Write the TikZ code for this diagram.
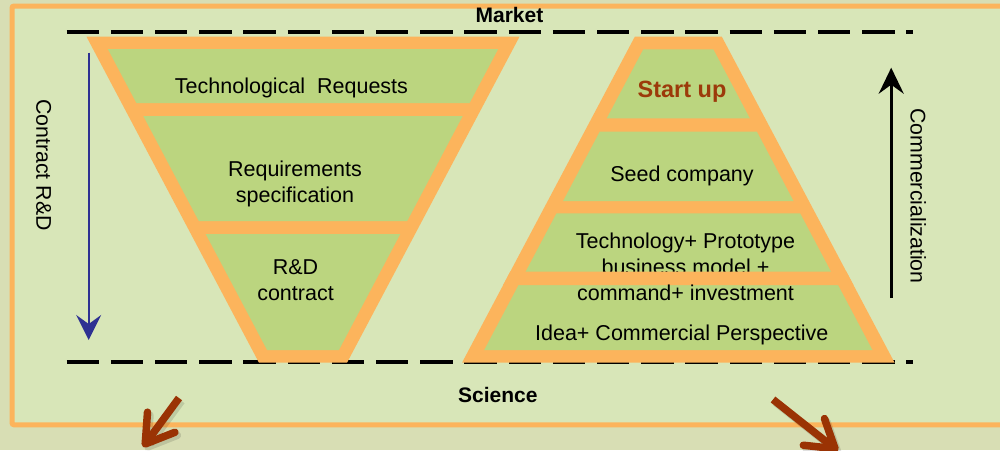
\documentclass[tikz,border=0pt]{standalone}
\usepackage{fontspec}
\setmainfont{Liberation Sans}
\usetikzlibrary{arrows.meta}
\definecolor{bgout}{HTML}{D8DEB4}
\definecolor{bgin}{HTML}{D8E6B8}
\definecolor{orangeC}{HTML}{FCB45C}
\definecolor{greenC}{HTML}{BBD57F}
\definecolor{brownT}{HTML}{9C3A0A}
\definecolor{brownA}{HTML}{9A3304}
\definecolor{blueA}{HTML}{2E3192}
\begin{document}
\begin{tikzpicture}[x=1pt,y=-1pt,
  lbl/.style={inner sep=0pt, anchor=base, font=\fontsize{21.5}{26}\selectfont},
  bold/.style={inner sep=0pt, anchor=base, font=\fontsize{21}{26}\selectfont\bfseries},
  side/.style={inner sep=0pt, anchor=center, rotate=-90, font=\fontsize{21.3}{26}\selectfont},
  dashline/.style={line width=4pt, dash pattern=on 32.3pt off 11.9pt},
  sect/.style={fill=greenC},
  frame/.style={fill=orangeC},
  bigarrow/.style={line width=7.5pt, brownA, line cap=butt,
    -{Straight Barb[length=27pt,width=34pt,line width=7.5pt,round]}},
  shadowarrow/.style={line width=7.5pt, black, opacity=0.12, line cap=butt,
    -{Straight Barb[length=27pt,width=34pt,line width=7.5pt,round]}}]
\useasboundingbox (0,0) rectangle (1000,450);
\fill[bgout] (0,0) rectangle (1000,450);
\draw[orangeC, line width=5pt, fill=bgin, rounded corners=2pt] (12,6) rectangle (1015,424.8);

% dashed lines
\coordinate (mL) at (66.6,32.3);
\coordinate (mR) at (913,32.3);
\coordinate (sL) at (66.6,361.7);
\coordinate (sR) at (913,361.7);
\draw[dashline] (mL) -- (mR);
\draw[dashline] (sL) -- (sR);

% left funnel
\fill[frame] (86.5,36.7) -- (519.5,36.7) -- (347,362.7) -- (259,362.7) -- cycle;
\fill[sect] (107.8,49) -- (498.2,49) -- (469.6,103) -- (136.4,103) -- cycle;
\fill[sect] (143.3,116) -- (462.7,116) -- (407.2,221) -- (198.8,221) -- cycle;
\fill[sect] (205.7,234) -- (400.3,234) -- (338.9,350) -- (267.1,350) -- cycle;

% right pyramid
\fill[frame] (634.8,36.7) -- (721.8,36.7) -- (894.6,362.7) -- (462.0,362.7) -- cycle;
\fill[sect] (643.3,49.3) -- (713.3,49.3) -- (749.8,118.3) -- (606.8,118.3) -- cycle;
\fill[sect] (599.7,131.7) -- (756.9,131.7) -- (793.5,201) -- (563.1,201) -- cycle;
\fill[sect] (556.5,213.3) -- (800.1,213.3) -- (872.4,350) -- (484.2,350) -- cycle;

% texts
\node[bold] (market) at (509.5,22.3) {Market};
\node[bold] (science) at (497.8,402.3) {Science};
\node[lbl] (tech) at (291.5,93.7) {Technological\ \ Requests};
\node[lbl] (req1) at (295,176.7) {Requirements};
\node[lbl] (req2) at (295,202.7) {specification};
\node[lbl] (rd1) at (295.5,274) {R\&D};
\node[lbl] (rd2) at (295.5,300) {contract};
\node[bold, text=brownT, font=\fontsize{23.5}{26}\selectfont\bfseries] (start) at (682,97.3) {Start up};
\node[lbl] (seed) at (682,181.7) {Seed company};
\node[lbl] (tp1) at (685.5,248.3) {Technology+ Prototype};
\node[lbl] (tp2) at (685.5,274.3) {business model +};
\fill[frame] (510.2,271.7) -- (846.4,271.7) -- (853.4,285) -- (503.2,285) -- cycle;
\node[lbl] (tp3) at (685.5,300.3) {command+ investment};
\node[lbl] (idea) at (681.8,340.7) {Idea+ Commercial Perspective};
\node[side] (contract) at (43.8,165) {Contract R\&D};
\node[side] (comm) at (918.3,196) {Commercialization};

% vertical arrows
\coordinate (bA) at (88.7,52.7);
\coordinate (bB) at (88.7,340);
\draw[blueA, line width=2pt, -{Stealth[length=25pt,width=25pt,inset=9pt]}] (bA) -- (bB);
\coordinate (kA) at (891.2,298);
\coordinate (kB) at (891.2,67.7);
\draw[black, line width=3pt, -{Stealth[length=26pt,width=25pt,inset=9pt]}] (kA) -- (kB);

% brown arrows
\coordinate (lA) at (179,398);
\coordinate (lB) at (143,447);
\coordinate (rA) at (773,399.5);
\coordinate (rB) at (838,451);
\draw[shadowarrow] ([shift={(2.5,3)}]lA) -- ([shift={(2.5,3)}]lB);
\draw[shadowarrow] ([shift={(2.5,3)}]rA) -- ([shift={(2.5,3)}]rB);
\draw[bigarrow] (lA) -- (lB);
\draw[bigarrow] (rA) -- (rB);
\end{tikzpicture}
\end{document}
